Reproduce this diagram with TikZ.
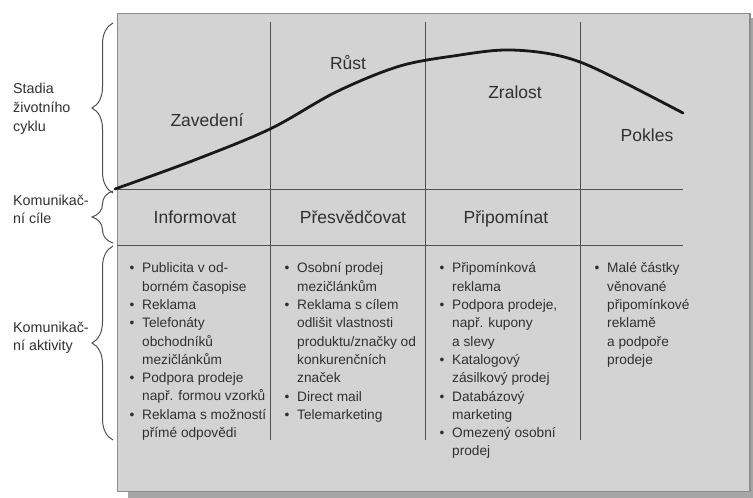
\documentclass[tikz,border=0pt]{standalone}
\usepackage{fontspec}
\setmainfont{Liberation Sans}
\usetikzlibrary{decorations.pathreplacing}
\definecolor{boxfill}{HTML}{D3D3D3}
\definecolor{boxedge}{HTML}{8C8C8C}
\definecolor{shadowc}{HTML}{A6A6A6}
\definecolor{gridc}{HTML}{505050}
\definecolor{txt}{HTML}{303030}
\newcommand{\bl}{\makebox[12.5pt][l]{\textbullet}}
\newcommand{\ci}{\hspace*{12.5pt}}
\tikzset{
  gridline/.style={draw=gridc, line width=0.9pt},
  lifecurve/.style={draw=black!90, line width=2.8pt, line cap=round},
  bracestyle/.style={draw=gridc, line width=1pt, decorate,
     decoration={brace, amplitude=21pt}},
  stagelabel/.style={font=\fontsize{17.5}{21}\selectfont, text=txt, inner sep=0pt,
     text height=12.5pt, text depth=0pt},
  sidelabel/.style={anchor=north west, align=left, text=txt, inner sep=0pt},
  colitems/.style={anchor=north west, align=left, text=txt, inner sep=0pt,
     font=\fontsize{13.7}{18.3}\selectfont},
}
\begin{document}
\begin{tikzpicture}[x=1pt, y=-1pt]
\useasboundingbox (0,0) rectangle (753,498);
% shadow and box
\fill[shadowc] (128,18) rectangle (753,498);
\draw[boxedge, fill=boxfill, line width=1.2pt] (117.6,13.6) rectangle (750,491.4);
% grid
\draw[gridline] (270,22) -- (270,440);
\draw[gridline] (425,22) -- (425,440);
\draw[gridline] (580,22) -- (580,440);
\coordinate (hl1a) at (117,189);
\coordinate (hl1b) at (683,189);
\coordinate (hl2a) at (117,245);
\coordinate (hl2b) at (683,245);
\draw[gridline] (hl1a) -- (hl1b);
\draw[gridline] (hl2a) -- (hl2b);
% life-cycle curve
\draw[lifecurve] plot[smooth, tension=0.55] coordinates {(115,189) (192,161) (270,129) (336,92) (400,66) (460,55) (504,50) (545,53) (580,62) (623,82) (683,113)};
% stage labels
\node[stagelabel] (zav) at (207,120) {Zavedení};
\node[stagelabel] (rust) at (348,63) {Růst};
\node[stagelabel] (zral) at (515,92) {Zralost};
\node[stagelabel] (pok) at (647,135) {Pokles};
\node[stagelabel] (inf) at (195,217) {Informovat};
\node[stagelabel] (pres) at (353,217) {Přesvědčovat};
\node[stagelabel] (prip) at (506,217) {Připomínat};
% braces
\draw[bracestyle] (113,193) -- (113,23);
\draw[bracestyle] (113,243) -- (113,191);
\draw[bracestyle] (113,440) -- (113,246);
% side labels
\node[sidelabel, font=\fontsize{14.3}{19}\selectfont] (stadia) at (13,82.7) {Stadia\\životního\\cyklu};
\node[sidelabel, font=\fontsize{14.3}{18}\selectfont] (cile) at (13,194.5) {Komunikač-\\ní cíle};
\node[sidelabel, font=\fontsize{14.3}{18}\selectfont] (akt) at (13,321.5) {Komunikač-\\ní aktivity};
% column items
\node[colitems] (c1) at (129.5,262.7) {\bl Publicita v od-\\\ci borném časopise\\\bl Reklama\\\bl Telefonáty\\\ci obchodníků\\\ci mezičlánkům\\\bl Podpora prodeje\\\ci např. formou vzorků\\\bl Reklama s možností\\\ci přímé odpovědi};
\node[colitems] (c2) at (284.5,262.7) {\bl Osobní prodej\\\ci mezičlánkům\\\bl Reklama s cílem\\\ci odlišit vlastnosti\\\ci produktu/značky od\\\ci konkurenčních\\\ci značek\\\bl Direct mail\\\bl Telemarketing};
\node[colitems] (c3) at (439.5,262.7) {\bl Připomínková\\\ci reklama\\\bl Podpora prodeje,\\\ci např. kupony\\\ci a slevy\\\bl Katalogový\\\ci zásilkový prodej\\\bl Databázový\\\ci marketing\\\bl Omezený osobní\\\ci prodej};
\node[colitems] (c4) at (594.5,262.7) {\bl Malé částky\\\ci věnované\\\ci připomínkové\\\ci reklamě\\\ci a podpoře\\\ci prodeje};
\end{tikzpicture}
\end{document}
